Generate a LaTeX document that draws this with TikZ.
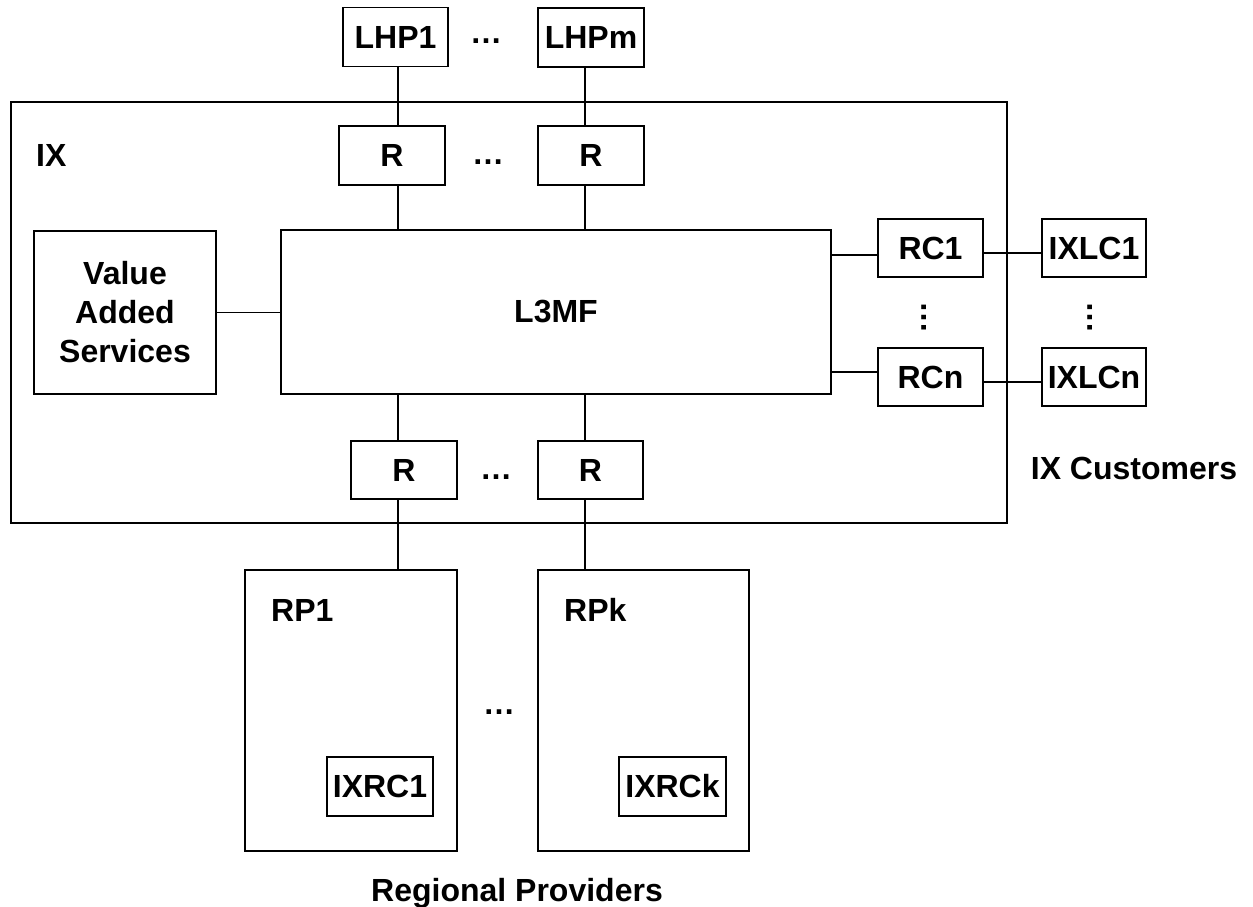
\documentclass[tikz,border=0pt]{standalone}
\usepackage{fontspec}
\setmainfont{Liberation Sans}
\begin{document}
\begin{tikzpicture}[x=1pt,y=-1pt,
  every node/.style={font=\fontsize{32}{39}\selectfont\bfseries, inner sep=0pt},
  bx/.style={draw, line width=1.6pt, minimum width=#1},
  ln/.style={line width=1.5pt},
  lbl/.style={anchor=base west},
  dots/.style={anchor=base}]
\useasboundingbox (0,0) rectangle (1253,907);
% frame
\node[bx=996, minimum height=421] (IXF) at (509,312.5) {};
\node[lbl] (IXl) at (36,166.5) {IX};
% top
\node[bx=105, minimum height=59] (LHP1) at (395.5,37) {LHP1};
\node[bx=106, minimum height=59] (LHPm) at (591,37.5) {LHPm};
\node[dots] (d1) at (486,44) {…};
\node[bx=106, minimum height=59] (Rt1) at (392,155.5) {R};
\node[bx=106, minimum height=59] (Rt2) at (591,155.5) {R};
\node[dots] (d2) at (488,164) {…};
% middle
\node[bx=182, minimum height=163, align=center] (VAS) at (125,312.5) {Value\\Added\\Services};
\node[bx=550, minimum height=164] (L3MF) at (556,312) {L3MF};
\node[bx=105, minimum height=58] (RC1) at (930.5,248) {RC1};
\node[bx=105, minimum height=58] (RCn) at (930.5,377) {RCn};
\node[bx=104, minimum height=58] (IXLC1) at (1094,248) {IXLC1};
\node[bx=104, minimum height=58] (IXLCn) at (1094,377) {IXLCn};
\node[rotate=90] (v1) at (924,317.5) {…};
\node[rotate=90] (v2) at (1090,317.5) {…};
\node[anchor=base] (cust) at (1134,479.5) {IX Customers};
% bottom
\node[bx=106, minimum height=58] (Rb1) at (404,470) {R};
\node[bx=105, minimum height=58] (Rb2) at (590.5,470) {R};
\node[dots] (d3) at (496,479) {…};
\node[bx=212, minimum height=281] (RP1) at (351,710.5) {};
\node[bx=211, minimum height=281] (RPk) at (643.5,710.5) {};
\node[lbl] (RP1l) at (271,621.5) {RP1};
\node[lbl] (RPkl) at (564,621.5) {RPk};
\node[bx=106, minimum height=59] (IXRC1) at (380,786.5) {IXRC1};
\node[bx=107, minimum height=59] (IXRCk) at (672.5,786.5) {IXRCk};
\node[dots] (d4) at (499,714) {…};
\node[anchor=base] (reg) at (517,901.5) {Regional Providers};
% connector guides
\coordinate (cA) at (398,0);
\coordinate (cB) at (585,0);
\coordinate (r1) at (0,255);
\coordinate (r2) at (0,372);
\coordinate (r3) at (0,253);
\coordinate (r4) at (0,382);
% connectors
\draw[ln] (LHP1.south -| cA) -- (Rt1.north -| cA);
\draw[ln] (LHPm.south -| cB) -- (Rt2.north -| cB);
\draw[ln] (Rt1.south -| cA) -- (L3MF.north -| cA);
\draw[ln] (Rt2.south -| cB) -- (L3MF.north -| cB);
\draw[ln] (L3MF.south -| cA) -- (Rb1.north -| cA);
\draw[ln] (L3MF.south -| cB) -- (Rb2.north -| cB);
\draw[ln] (Rb1.south -| cA) -- (RP1.north -| cA);
\draw[ln] (Rb2.south -| cB) -- (RPk.north -| cB);
\draw[ln] (VAS.east) -- (VAS.east -| L3MF.west);
\draw[ln] (L3MF.east |- r1) -- (RC1.west |- r1);
\draw[ln] (L3MF.east |- r2) -- (RCn.west |- r2);
\draw[ln] (RC1.east |- r3) -- (IXLC1.west |- r3);
\draw[ln] (RCn.east |- r4) -- (IXLCn.west |- r4);
\end{tikzpicture}
\end{document}
